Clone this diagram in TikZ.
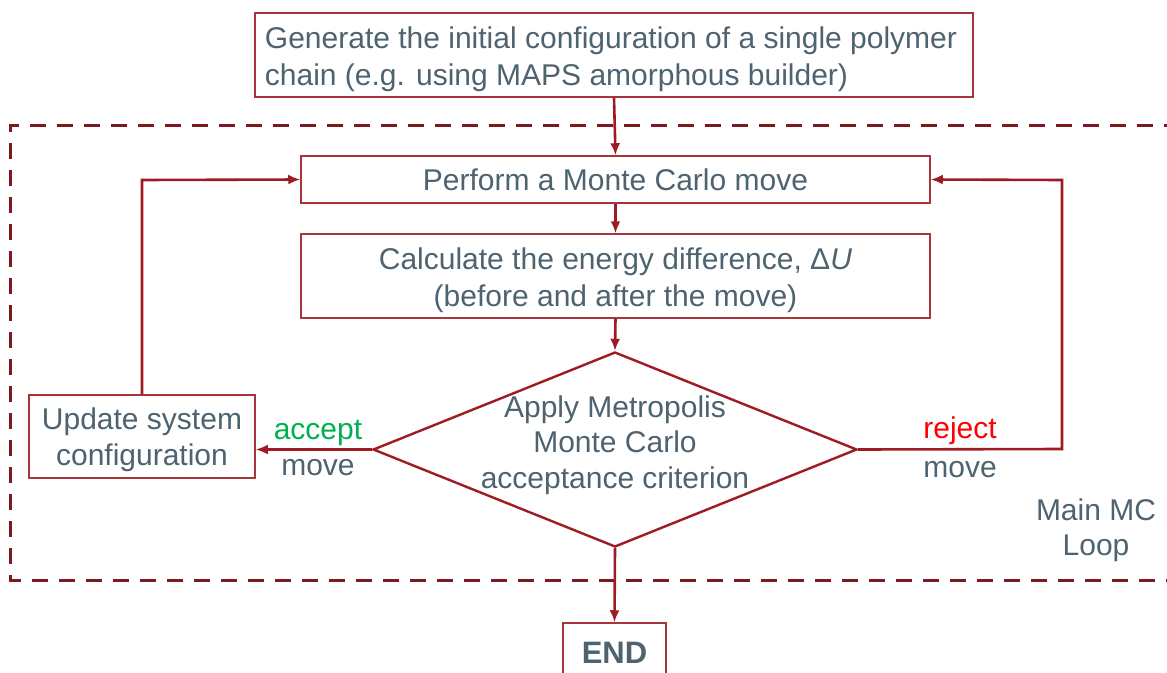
\documentclass[tikz,border=0pt]{standalone}
\usepackage{fontspec}
\setmainfont{Liberation Sans}
\usetikzlibrary{arrows.meta,shapes.geometric}
\definecolor{boxred}{HTML}{A8343C}
\definecolor{linered}{HTML}{9E1B24}
\definecolor{dashred}{HTML}{7A1A1E}
\definecolor{txt}{HTML}{4E6370}
\definecolor{accgreen}{HTML}{00B050}
\begin{document}
\begin{tikzpicture}[x=1pt,y=-1pt,
  box/.style={draw=boxred,line width=1.5pt,fill=white,text=txt,inner sep=0pt,font=\fontsize{30}{37}\selectfont},
  conn/.style={draw=linered,line width=2.6pt,-{Latex[length=12pt,width=10pt]}},
  lbl/.style={text=txt,font=\fontsize{30}{36}\selectfont,inner sep=0pt}]
\useasboundingbox (0,0) rectangle (1167,672);
% main loop dashed frame
\draw[dashred,line width=3pt,dash pattern=on 16pt off 11pt] (1180,125) -- (10,125) -- (10,580) -- (1180,580);
% nodes
\node[box,minimum width=718pt,minimum height=84pt] (gen) at (614,55) {};
\node[lbl,align=left,font=\fontsize{30}{37}\selectfont] (gentxt) at (611,59)
  {Generate the initial configuration of a single polymer\\chain (e.g. using MAPS amorphous builder)};
\node[box,minimum width=629pt,minimum height=47pt] (mc) at (615.5,179.5) {Perform a Monte Carlo move};
\node[box,minimum width=629pt,minimum height=84pt] (de) at (615.5,276) {};
\node[lbl,align=center,font=\fontsize{30}{37}\selectfont] (detxt) at (615.5,280)
  {Calculate the energy difference, Δ\textit{U}\\(before and after the move)};
\node[diamond,draw=linered,line width=2.4pt,fill=white,minimum width=484pt,minimum height=195pt,inner sep=0pt,aspect=2.5] (dec) at (615,449.5) {};
\node[lbl,align=center,font=\fontsize{30}{35.5}\selectfont] (dectxt) at (615,445) {Apply Metropolis\\Monte Carlo\\acceptance criterion};
\node[box,minimum width=226pt,minimum height=83pt] (upd) at (142,436.5) {};
\node[lbl,align=center,font=\fontsize{30}{36}\selectfont] (updtxt) at (142,440) {Update system\\configuration};
\node[box,minimum width=103pt,minimum height=70pt] (end) at (614.5,658) {};
\node[text=txt,font=\fontsize{31}{34}\selectfont\bfseries,inner sep=0pt] (endtxt) at (614.5,653) {END};
% labels
\node[lbl,text=accgreen] (acc) at (318,433) {accept};
\node[lbl] (accm) at (318,468) {move};
\node[lbl,text=red] (rej) at (960,431) {reject};
\node[lbl] (rejm) at (960,470) {move};
\node[lbl,align=center,font=\fontsize{30}{35}\selectfont] (loop) at (1096,530) {Main MC\\Loop};
% connectors
\coordinate (ul) at (142,180);
\coordinate (rr) at (1062,449);
\coordinate (rt) at (1062,180);
\draw[conn] (gen.south) -- (mc.north);
\draw[conn] (mc.south) -- (de.north);
\draw[conn] (de.south) -- (dec.north);
\draw[conn] (dec.west) -- (dec.west -| upd.east);
\draw[conn] (upd.north) -- (ul) -- (mc.west);
\draw[conn] (dec.east) -- (rr) -- (rt) -- (mc.east);
\draw[conn] (dec.south) -- (end.north);
\end{tikzpicture}
\end{document}
